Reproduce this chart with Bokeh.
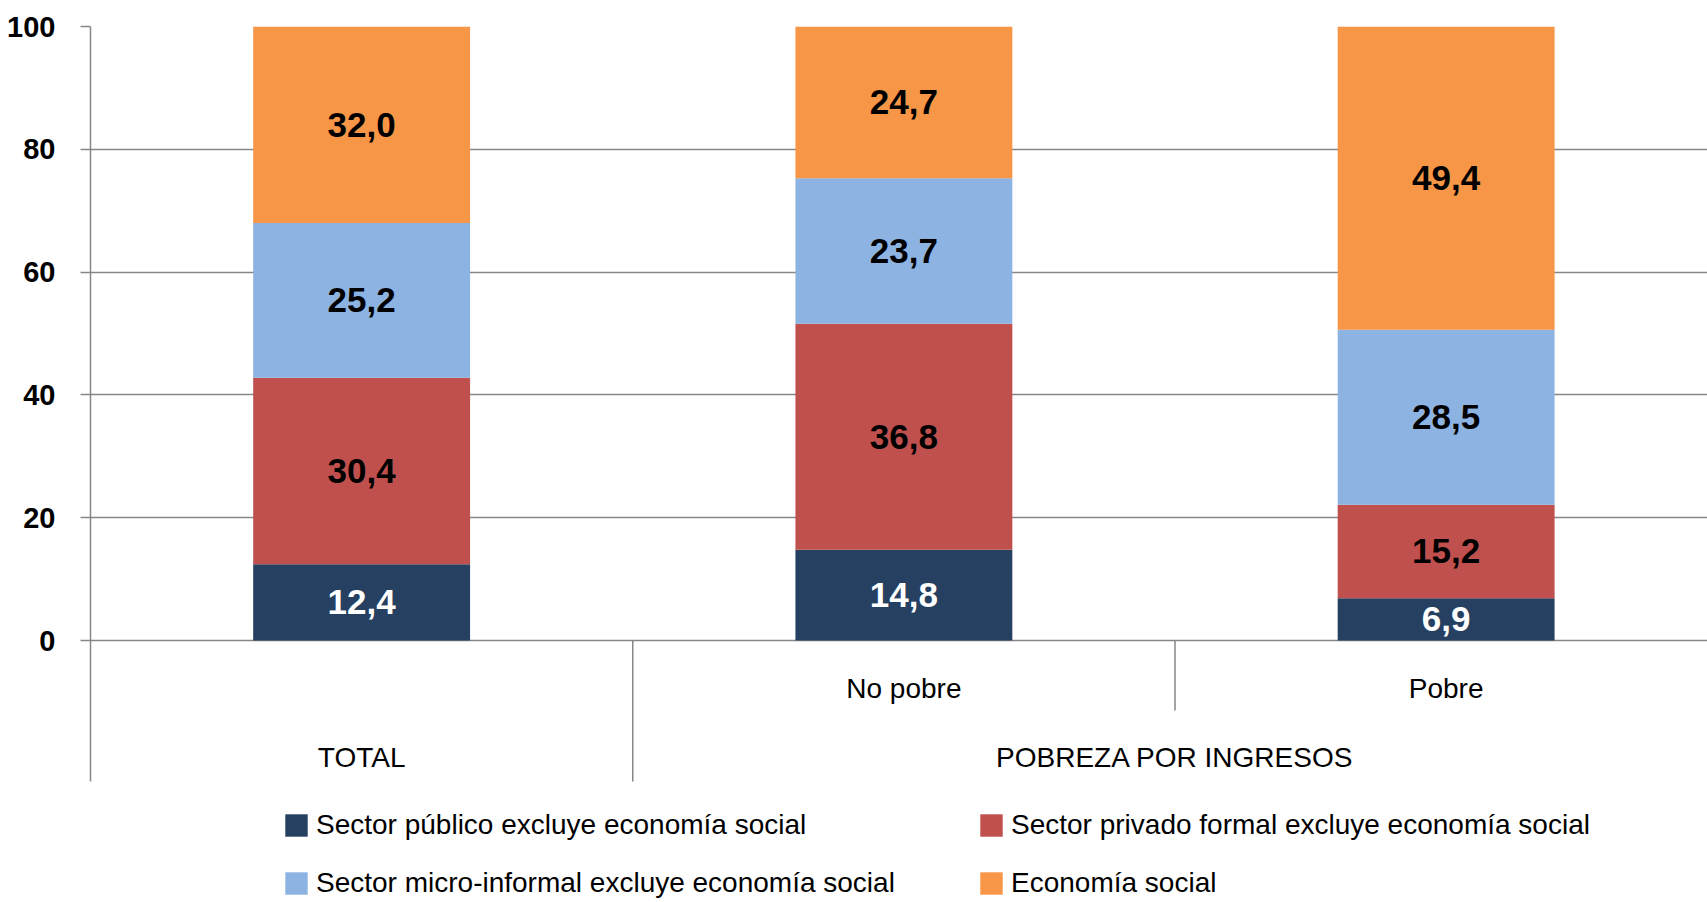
from bokeh.plotting import figure
from bokeh.models import ColumnDataSource, Range1d, FixedTicker, Legend, LegendItem
from bokeh.core.properties import value
from bokeh.embed import file_html
from bokeh.resources import INLINE

# ---- data ----
categories = ["TOTAL", "No pobre", "Pobre"]
group_label = "POBREZA POR INGRESOS"
series_names = [
    "Sector público excluye economía social",
    "Sector privado formal excluye economía social",
    "Sector micro-informal excluye economía social",
    "Economía social",
]
publico = [12.4, 14.8, 6.9]
privado = [30.4, 36.8, 15.2]
micro = [25.2, 23.7, 28.5]
social = [32.0, 24.7, 49.4]
y_ticks = [0, 20, 40, 60, 80, 100]

# ---- styles ----
colors = ["#254061", "#C0504D", "#8DB3E2", "#F79646"]
label_colors = ["white", "black", "black", "black"]
FONT = "Liberation Sans"
GRID = "#868686"

series = [publico, privado, micro, social]
xs = [i + 0.5 for i in range(len(categories))]

AXIS_BOTTOM = -22.96   # bottom of the category axis area
p = figure(width=1707, height=902, output_backend="svg", toolbar_location=None,
           x_range=Range1d(0, 2.982), y_range=Range1d(-42.67, 100),
           min_border_left=90, min_border_right=0, min_border_top=26, min_border_bottom=0)
p.outline_line_color = None
p.background_fill_color = "white"
p.xaxis.visible = False
p.xgrid.visible = False

p.ygrid.ticker = FixedTicker(ticks=y_ticks)
p.ygrid.grid_line_color = GRID
p.ygrid.grid_line_width = 1.5

ax = p.yaxis[0]
ax.ticker = FixedTicker(ticks=y_ticks)
ax.bounds = (AXIS_BOTTOM, 100)
ax.axis_line_color = GRID
ax.axis_line_width = 1.5
ax.major_tick_line_color = GRID
ax.major_tick_line_width = 1.5
ax.major_tick_out = 10
ax.major_tick_in = 0
ax.minor_tick_line_color = None
ax.major_label_standoff = 25
ax.major_label_text_font = FONT
ax.major_label_text_font_size = "29px"
ax.major_label_text_font_style = "bold"
ax.major_label_text_color = "black"

# stacked bars
bottoms = [0.0] * len(categories)
renderers = []
lab_x, lab_y, lab_t, lab_c = [], [], [], []
for si, vals in enumerate(series):
    tops = [b + v for b, v in zip(bottoms, vals)]
    src = ColumnDataSource(dict(x=xs, bottom=bottoms, top=tops))
    r = p.vbar(x="x", bottom="bottom", top="top", width=0.40, source=src,
               fill_color=colors[si], line_color=None)
    renderers.append(r)
    for i, v in enumerate(vals):
        lab_x.append(xs[i])
        lab_y.append((bottoms[i] + tops[i]) / 2)
        lab_t.append(f"{v:.1f}".replace(".", ","))
        lab_c.append(label_colors[si])
    bottoms = tops

p.text(x=lab_x, y=lab_y, text=lab_t, text_color=lab_c,
       text_font=value(FONT), text_font_size=value("35px"), text_font_style="bold",
       text_align="center", text_baseline="middle")

# category axis (two levels) below zero
p.segment(x0=[1.0, 2.0], x1=[1.0, 2.0], y0=[0, 0], y1=[AXIS_BOTTOM, -11.4],
          line_color=GRID, line_width=1.5)
p.text(x=[xs[1], xs[2]], y=[-7.8, -7.8], text=[categories[1], categories[2]],
       text_font=value(FONT), text_font_size=value("28px"), text_color="black",
       text_align="center", text_baseline="middle")
p.text(x=[xs[0], (xs[1] + xs[2]) / 2], y=[-19.0, -19.0], text=[categories[0], group_label],
       text_font=value(FONT), text_font_size=value("28px"), text_color="black",
       text_align="center", text_baseline="middle")

# legend (2x2)
positions = [(192, 61), (887, 61), (192, 3), (887, 3)]
for si, (lx, ly) in enumerate(positions):
    lg = Legend(items=[LegendItem(label=series_names[si], renderers=[renderers[si]])],
                location=(lx, ly), orientation="horizontal",
                glyph_width=28, glyph_height=28, label_standoff=6, label_height=32,
                padding=0, margin=0, spacing=0,
                border_line_color=None, background_fill_alpha=0,
                label_text_font=FONT, label_text_font_size="28px", label_text_color="black")
    p.add_layout(lg, "center")

open("out.html", "w").write(file_html(p, INLINE))
